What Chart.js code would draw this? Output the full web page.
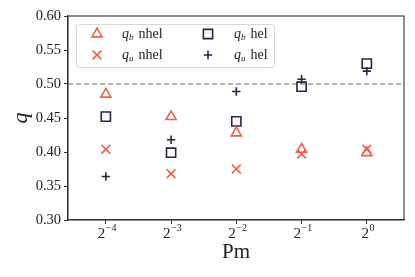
<!DOCTYPE html>
<html>
<head>
<meta charset="utf-8">
<script src="https://cdn.jsdelivr.net/npm/chart.js@4/dist/chart.umd.min.js"></script>
<style>
  body { margin: 0; background: #fff; }
  #caja { width: 415px; height: 277px; }
</style>
</head>
<body>
<div id="caja"><canvas id="lienzo"></canvas></div>
<script>
// datos (x en exponente de 2)
const exponentes = [-4, -3, -2, -1, 0];
const baseX = '2';
const superX = ['\u22124', '\u22123', '\u22122', '\u22121', '0'];
const qbNhel = [0.485, 0.452, 0.428, 0.404, 0.399];
const quNhel = [0.404, 0.368, 0.375, 0.397, 0.404];
const qbHel  = [0.452, 0.399, 0.445, 0.496, 0.530];
const quHel  = [0.364, 0.418, 0.489, 0.507, 0.519];
const lineaRef = 0.5;

const rojo = '#f0604b';
const oscuro = '#2e2347';
const serif = "'Liberation Serif', 'DejaVu Serif', serif";

function puntos(valores) {
    return exponentes.map((e, i) => ({ x: e, y: valores[i] }));
}

const series = [
    { nombre: 'b', tipo: 'nhel', datos: qbNhel, color: rojo, estilo: 'triangle', radio: 5.8 },
    { nombre: 'u', tipo: 'nhel', datos: quNhel, color: rojo, estilo: 'crossRot', radio: 6.2 },
    { nombre: 'b', tipo: 'hel', datos: qbHel, color: oscuro, estilo: 'rect', radio: 6.5 },
    { nombre: 'u', tipo: 'hel', datos: quHel, color: oscuro, estilo: 'cross', radio: 4.2 }
];

// linea punteada en q = 0.5, marco completo y etiquetas 2^n
const marco = {
    id: 'marco',
    beforeDatasetsDraw(chart) {
        const ctx = chart.ctx, a = chart.chartArea;
        const y = chart.scales.y.getPixelForValue(lineaRef);
        ctx.save();
        ctx.strokeStyle = '#9a9a9a';
        ctx.lineWidth = 1.3;
        ctx.setLineDash([5, 3]);
        ctx.beginPath();
        ctx.moveTo(a.left, y);
        ctx.lineTo(a.right, y);
        ctx.stroke();
        ctx.restore();
    },
    afterDraw(chart) {
        const ctx = chart.ctx, a = chart.chartArea;
        ctx.save();
        ctx.strokeStyle = '#333';
        ctx.lineWidth = 1.1;
        ctx.strokeRect(a.left, a.top, a.right - a.left, a.bottom - a.top);

        // etiquetas del eje x con exponente
        ctx.fillStyle = '#222';
        ctx.textBaseline = 'alphabetic';
        exponentes.forEach((e, i) => {
            const px = chart.scales.x.getPixelForValue(e);
            ctx.font = '15px ' + serif;
            const wb = ctx.measureText(baseX).width;
            ctx.font = '10px ' + serif;
            const we = ctx.measureText(superX[i]).width;
            const x0 = px - (wb + we) / 2 + 1;
            ctx.font = '15px ' + serif;
            ctx.fillText(baseX, x0, a.bottom + 18);
            ctx.font = '10px ' + serif;
            ctx.fillText(superX[i], x0 + wb + 0.5, a.bottom + 11);
        });
        ctx.restore();
    }
};

// leyenda en dos columnas dentro del area
const leyenda = {
    id: 'leyenda',
    afterDraw(chart) {
        const ctx = chart.ctx;
        ctx.save();
        const bx = 76, by = 24, bw = 198, bh = 43;
        ctx.fillStyle = 'rgba(255,255,255,0.85)';
        ctx.strokeStyle = '#d8d8d8';
        ctx.lineWidth = 1;
        ctx.beginPath();
        ctx.roundRect(bx + 0.5, by + 0.5, bw, bh, 3);
        ctx.fill();
        ctx.stroke();

        const cols = [{ mx: 97, tx: 122 }, { mx: 208, tx: 234 }];
        const filas = [34, 55];
        series.forEach((s, i) => {
            const c = cols[Math.floor(i / 2)], fy = filas[i % 2];
            ctx.strokeStyle = s.color;
            ctx.fillStyle = 'rgba(0,0,0,0)';
            ctx.lineWidth = 1.6;
            Chart.helpers.drawPoint(ctx, { pointStyle: s.estilo, radius: s.radio, rotation: 0, borderWidth: 1.6 }, c.mx, fy);

            ctx.fillStyle = '#222';
            ctx.textBaseline = 'alphabetic';
            ctx.font = 'italic 14px ' + serif;
            let x = c.tx;
            ctx.fillText('q', x, fy + 4);
            x += ctx.measureText('q').width;
            ctx.font = 'italic 9px ' + serif;
            ctx.fillText(s.nombre, x, fy + 6);
            x += ctx.measureText(s.nombre).width + 5;
            ctx.font = '14px ' + serif;
            ctx.fillText(s.tipo, x, fy + 4);
        });
        ctx.restore();
    }
};

const contexto = document.getElementById('lienzo').getContext('2d');
const grafico = new Chart(contexto, {
    type: 'scatter',
    data: {
        datasets: series.map(s => ({
            label: 'q_' + s.nombre + ' ' + s.tipo,
            data: puntos(s.datos),
            pointStyle: s.estilo,
            pointRadius: s.radio,
            pointHoverRadius: s.radio,
            pointBorderWidth: 1.6,
            borderColor: s.color,
            backgroundColor: 'rgba(0,0,0,0)'
        }))
    },
    options: {
        responsive: true,
        maintainAspectRatio: false,
        animation: false,
        layout: { padding: { left: 0, right: 11, top: 16, bottom: 0 } },
        plugins: { legend: { display: false }, tooltip: { enabled: false } },
        scales: {
            x: {
                type: 'linear',
                min: -4.58,
                max: 0.57,
                afterBuildTicks: s => { s.ticks = exponentes.map(v => ({ value: v })); },
                afterFit: s => { s.height = 57; },
                grid: { drawOnChartArea: false, drawTicks: true, tickLength: 4, color: '#333' },
                border: { color: '#333', width: 1.1 },
                ticks: { display: false },
                title: {
                    display: true,
                    text: 'Pm',
                    font: { family: serif, size: 21 },
                    color: '#222',
                    padding: { top: 0, bottom: 12 }
                }
            },
            y: {
                min: 0.30,
                max: 0.60,
                afterFit: s => { s.width = 68; },
                grid: { drawOnChartArea: false, drawTicks: true, tickLength: 4, color: '#333' },
                border: { color: '#333', width: 1.1 },
                ticks: {
                    stepSize: 0.05,
                    callback: v => v.toFixed(2),
                    font: { family: serif, size: 14.5 },
                    color: '#222',
                    padding: 3
                },
                title: {
                    display: true,
                    text: 'q',
                    font: { family: serif, size: 22, style: 'italic' },
                    color: '#222',
                    padding: { top: 8, bottom: 0 }
                }
            }
        }
    },
    plugins: [marco, leyenda]
});
</script>
</body>
</html>
